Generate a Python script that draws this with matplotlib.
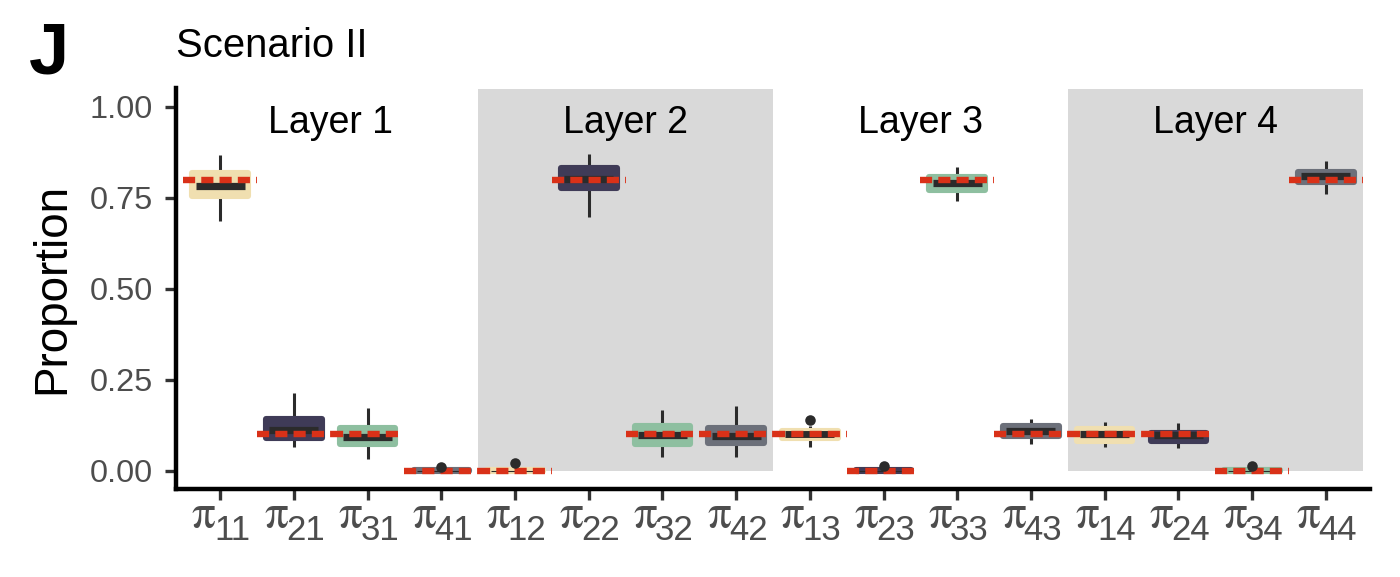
import matplotlib
matplotlib.use("Agg")
import matplotlib.pyplot as plt
from matplotlib.patches import Rectangle
from matplotlib.transforms import offset_copy

plt.rcParams['font.family'] = ['Liberation Sans', 'DejaVu Sans']

# ---- data ----
labels_main = ["π"] * 16
labels_sub = ["11", "21", "31", "41", "12", "22", "32", "42",
              "13", "23", "33", "43", "14", "24", "34", "44"]
whisk_lo = [0.686, 0.066, 0.032, 0.000, 0.000, 0.697, 0.039, 0.037,
            0.065, 0.000, 0.741, 0.073, 0.065, 0.062, 0.000, 0.760]
q1 = [0.755, 0.090, 0.073, 0.000, 0.000, 0.777, 0.074, 0.075,
      0.090, 0.000, 0.772, 0.095, 0.083, 0.083, 0.000, 0.793]
median = [0.781, 0.113, 0.094, 0.000, 0.000, 0.802, 0.099, 0.096,
          0.100, 0.000, 0.790, 0.110, 0.100, 0.099, 0.000, 0.811]
q3 = [0.817, 0.141, 0.118, 0.003, 0.003, 0.831, 0.123, 0.117,
      0.109, 0.003, 0.807, 0.123, 0.114, 0.105, 0.003, 0.820]
whisk_hi = [0.866, 0.215, 0.172, 0.004, 0.004, 0.870, 0.168, 0.177,
            0.122, 0.004, 0.835, 0.142, 0.134, 0.131, 0.004, 0.850]
outliers = [[], [], [], [0.011], [0.021], [], [], [],
            [0.140], [0.012], [], [], [], [], [0.012], []]
true_value = [0.8, 0.1, 0.1, 0.0, 0.0, 0.8, 0.1, 0.1,
              0.1, 0.0, 0.8, 0.1, 0.1, 0.1, 0.0, 0.8]
layer_names = ["Layer 1", "Layer 2", "Layer 3", "Layer 4"]
yticks = [0.0, 0.25, 0.5, 0.75, 1.0]
ytick_labels = ["0.00", "0.25", "0.50", "0.75", "1.00"]

# colours by row index (first subscript digit)
row_colors = ["#F0DFB0", "#3F3B57", "#8EBFA0", "#6C707A"]
red = "#D93118"
dark = "#2B2B2B"
tick_col = "#4D4D4D"

W, H = 1400, 577
fig = plt.figure(figsize=(7, 2.885), dpi=200)
ax = fig.add_axes([176 / W, 1 - 489 / H, (1370 - 176) / W, (489 - 88.5) / H])
ax.set_xlim(0.4, 16.6)
ax.set_ylim(-0.05, 1.05)

# shaded layer panels
for k, name in enumerate(layer_names):
    x0 = 4 * k + 0.5
    if k % 2 == 1:
        ax.add_patch(Rectangle((x0, 0), 4, 1.05, facecolor="#D9D9D9",
                               edgecolor="none", zorder=0))
    ax.text(x0 + 2, 0.928, name, ha="center", va="baseline",
            fontsize=13.5, color="black", zorder=7)

positions = list(range(1, 17))
box_w = 0.755
med_w = 0.665
px_per_unit = 364.0
for i, p in enumerate(positions):
    c = row_colors[int(labels_sub[i][0]) - 1]
    # whisker
    ax.plot([p, p], [whisk_lo[i], whisk_hi[i]], color=dark, lw=1.1,
            solid_capstyle="butt", zorder=2)
    # box
    ax.add_patch(Rectangle((p - box_w / 2, q1[i]), box_w, q3[i] - q1[i],
                           facecolor=c, edgecolor=c, lw=2.2,
                           joinstyle="round", zorder=3))
    # median
    mlw = min(2.6, (q3[i] - q1[i]) * px_per_unit * 0.36)
    if mlw > 0.2:
        ax.plot([p - med_w / 2, p + med_w / 2], [median[i], median[i]],
                color=dark, lw=mlw, solid_capstyle="butt", zorder=4)
    # true value (red dashed)
    ax.plot([p - 0.5, p + 0.5], [true_value[i], true_value[i]], color=red,
            lw=2.3, dashes=(1.9, 0.96), zorder=5)
    # outliers
    for o in outliers[i]:
        ax.plot(p, o, "o", ms=3.8, color=dark, mec="none", zorder=6)

# axes styling
for s in ["top", "right"]:
    ax.spines[s].set_visible(False)
for s in ["left", "bottom"]:
    ax.spines[s].set_linewidth(1.6)
    ax.spines[s].set_color("black")
ax.set_yticks(yticks)
ax.set_yticklabels(ytick_labels, fontsize=11.7, color=tick_col)
ax.set_xticks(positions)
ax.set_xticklabels([])
ax.tick_params(axis="both", length=4, width=1.2, color="#333333")
ax.tick_params(axis="y", pad=4.3)

# x tick labels: pi with subscripts
xt = ax.get_xaxis_transform()
for i, p in enumerate(positions):
    t1 = offset_copy(xt, fig=fig, x=-17, y=-39, units="dots")
    ax.text(p, 0, labels_main[i], transform=t1, ha="center", va="baseline",
            fontsize=17, family="STIXGeneral", color=tick_col, clip_on=False)
    t2 = offset_copy(xt, fig=fig, x=12, y=-51, units="dots")
    ax.text(p, 0, labels_sub[i], transform=t2, ha="center", va="baseline",
            fontsize=12.5, color=tick_col, clip_on=False)

fig.text(0.037, 1 - 288.75 / H, "Proportion", rotation=90, ha="center",
         va="center", fontsize=16.5, color="black")
fig.text(176 / W, 1 - 57 / H, "Scenario II", ha="left", va="baseline",
         fontsize=14.4, color="black")
fig.text(0.021, 1 - 73 / H, "J", ha="left", va="baseline", fontsize=26,
         fontweight="bold", color="black")

fig.savefig("out.png", dpi=200)
